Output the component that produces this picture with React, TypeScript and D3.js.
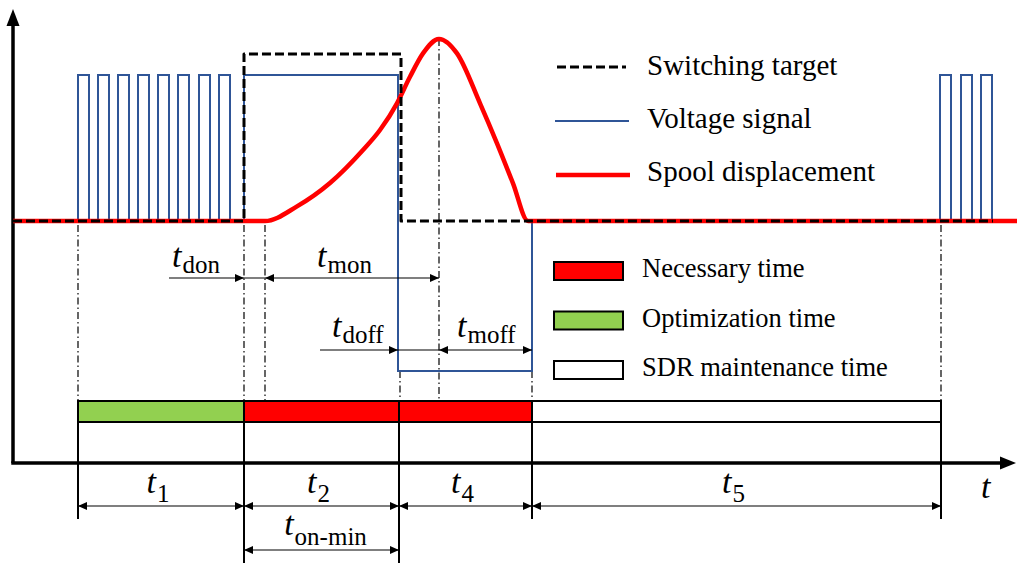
import React from "react";
import * as d3 from "d3";

const W = 1017;
const H = 563;

// Time axis in arbitrary units; signal levels normalised to the voltage "on" level.
const burstHead = [65, 85, 105, 125, 145, 165, 186, 206];
const burstTail = [927, 948, 968];
const pulseWidth = 11;
const tOnCmd = 231;
const tOffCmd = 388;
const tOffVolt = 385;
const tVoltBack = 519;
const tSpoolStart = 252;
const tSpoolPeak = 426;
const tTargetEnd = 980;
const tSpoolTail = 1004;
const tDonTail = 156;
const tDoffTail = 307;
const targetHigh = 1.144;
const voltageHigh = 1;
const voltageLow = -1.027;

const spoolT = [252, 284, 317, 350, 367, 384, 397, 410, 426, 444, 467, 484, 500, 515];
const spoolV = [0, 0.1, 0.26, 0.486, 0.623, 0.806, 0.988, 1.148, 1.247, 1.148, 0.806, 0.532, 0.258, 0];

const phaseBounds = [65, 231, 386, 519, 928];
const phaseSubs = ["1", "2", "4", "5"];
const phaseKind = ["opt", "need", "need", "sdr"];

const legendLines = ["Switching target", "Voltage signal", "Spool displacement"];
const legendBoxes = ["Necessary time", "Optimization time", "SDR maintenance time"];

const RED = "#ff0000";
const GREEN = "#92d050";
const BLUE = "#2f5597";
const FONT = '"Liberation Serif"';
const DASHDOT = "7 3 1.5 3";

const x = d3.scaleLinear().domain([0, 1000]).range([13, 1013]);
const y = d3.scaleLinear().domain([0, 1]).range([221, 75]);

const line = d3
  .line<[number, number]>()
  .x((d) => x(d[0]))
  .y((d) => y(d[1]));

function pulses(starts: number[]): [number, number][] {
  const pts: [number, number][] = [];
  starts.forEach((s) => {
    pts.push([s, 0], [s, voltageHigh], [s + pulseWidth, voltageHigh], [s + pulseWidth, 0]);
  });
  return pts;
}

const voltagePts: [number, number][] = [
  ...pulses(burstHead),
  [tOnCmd, 0],
  [tOnCmd, voltageHigh],
  [tOffVolt, voltageHigh],
  [tOffVolt, voltageLow],
  [tVoltBack, voltageLow],
  [tVoltBack, 0],
  ...pulses(burstTail),
];

const targetPts: [number, number][] = [
  [0, 0],
  [tOnCmd, 0],
  [tOnCmd, targetHigh],
  [tOffCmd, targetHigh],
  [tOffCmd, 0],
  [tTargetEnd, 0],
];

const spoolPts: [number, number][] = [
  [0, 0],
  ...spoolT.map((t, i) => [t, spoolV[i]] as [number, number]),
  [tSpoolTail, 0],
];

const spoolLine = d3
  .line<[number, number]>()
  .x((d) => x(d[0]))
  .y((d) => y(d[1]))
  .curve(d3.curveMonotoneX);

function Head({ tip, yy, dir }: { tip: number; yy: number; dir: number }) {
  const L = 9;
  const h = 4;
  return (
    <path
      d={`M${tip},${yy} L${tip - dir * L},${yy - h} L${tip - dir * L},${yy + h} Z`}
      fill="#000"
    />
  );
}

function TLabel({
  px,
  py,
  sub,
  anchor = "start",
  dy = 6,
}: {
  px: number;
  py: number;
  sub?: string;
  anchor?: string;
  dy?: number;
}) {
  return (
    <text x={px} y={py} style={{ fontFamily: FONT }} textAnchor={anchor as any} fill="#000">
      <tspan fontStyle="italic" fontSize={34}>
        t
      </tspan>
      {sub ? (
        <tspan fontSize={25} dy={dy} dx={1}>
          {sub}
        </tspan>
      ) : null}
    </text>
  );
}

export default function App() {
  const barTop = 401;
  const barMid = 422;
  const axisY = 463;
  const yPeak = y(spoolV[spoolT.indexOf(tSpoolPeak)]);

  const guides: { t: number; y0: number }[] = [
    { t: phaseBounds[0], y0: y(0) + 4 },
    { t: tOnCmd, y0: y(0) + 4 },
    { t: tSpoolStart, y0: y(0) + 4 },
    { t: tOffCmd - 1, y0: y(voltageLow) },
    { t: tSpoolPeak, y0: yPeak },
    { t: tVoltBack, y0: y(voltageLow) },
    { t: phaseBounds[4], y0: y(0) + 4 },
  ];

  const rowA = 278;
  const rowB = 350;
  const rowC = 506;
  const rowD = 550;

  return (
    <svg
      width={W}
      height={H}
      style={{ position: "absolute", left: 0, top: 0, background: "#fff", fontFamily: FONT }}
    >
      <rect x={0} y={0} width={W} height={H} fill="#fff" />

      {/* dash-dot guide lines */}
      {guides.map((g, i) => (
        <line
          key={i}
          x1={x(g.t)}
          x2={x(g.t)}
          y1={g.y0}
          y2={barTop}
          stroke="#000"
          strokeWidth={1.2}
          strokeDasharray={DASHDOT}
        />
      ))}

      {/* phase bar */}
      {phaseKind.map((k, i) => (
        <rect
          key={i}
          x={x(phaseBounds[i])}
          y={barTop}
          width={x(phaseBounds[i + 1]) - x(phaseBounds[i])}
          height={barMid - barTop}
          fill={k === "opt" ? GREEN : k === "need" ? RED : "#fff"}
          stroke="#000"
          strokeWidth={2}
        />
      ))}
      <line
        x1={x(phaseBounds[0])}
        x2={x(phaseBounds[4])}
        y1={barMid}
        y2={barMid}
        stroke="#000"
        strokeWidth={2}
      />
      {phaseBounds.map((b, i) => (
        <line
          key={i}
          x1={x(b)}
          x2={x(b)}
          y1={barTop}
          y2={i === 1 || i === 2 ? H : 519}
          stroke="#000"
          strokeWidth={2}
        />
      ))}

      {/* axes */}
      <line x1={x(0)} x2={x(0)} y1={axisY} y2={24} stroke="#000" strokeWidth={3.5} />
      <path d={`M${x(0)},9 L${x(0) - 6.5},26 L${x(0) + 6.5},26 Z`} fill="#000" />
      <line x1={x(0) - 1.75} x2={1002} y1={axisY} y2={axisY} stroke="#000" strokeWidth={3.5} />
      <path d={`M1016,${axisY} L1000,${axisY - 6.5} L1000,${axisY + 6.5} Z`} fill="#000" />

      {/* signals */}
      <path d={line(voltagePts) || ""} fill="none" stroke={BLUE} strokeWidth={2} />
      <path
        d={spoolLine(spoolPts) || ""}
        fill="none"
        stroke={RED}
        strokeWidth={4.5}
        strokeLinejoin="round"
      />
      <path
        d={line(targetPts) || ""}
        fill="none"
        stroke="#000"
        strokeWidth={3}
        strokeDasharray="9 4"
        strokeLinejoin="round"
      />

      {/* delay dimension lines */}
      <line x1={x(tDonTail)} x2={x(tSpoolPeak)} y1={rowA} y2={rowA} stroke="#000" strokeWidth={1.2} />
      <Head tip={x(tOnCmd)} yy={rowA} dir={1} />
      <Head tip={x(tSpoolStart)} yy={rowA} dir={-1} />
      <Head tip={x(tSpoolPeak)} yy={rowA} dir={1} />
      <TLabel px={172} py={267} sub="don" />
      <TLabel px={317} py={267} sub="mon" />

      <line x1={x(tDoffTail)} x2={x(tVoltBack)} y1={rowB} y2={rowB} stroke="#000" strokeWidth={1.2} />
      <Head tip={x(tOffVolt)} yy={rowB} dir={1} />
      <Head tip={x(tSpoolPeak)} yy={rowB} dir={-1} />
      <Head tip={x(tVoltBack)} yy={rowB} dir={1} />
      <TLabel px={332} py={337} sub="doff" />
      <TLabel px={457} py={337} sub="moff" />

      {/* phase duration dimensions */}
      <line
        x1={x(phaseBounds[0])}
        x2={x(phaseBounds[4])}
        y1={rowC}
        y2={rowC}
        stroke="#000"
        strokeWidth={1.2}
      />
      {phaseSubs.map((s, i) => {
        const a = x(phaseBounds[i]);
        const b = x(phaseBounds[i + 1]);
        return (
          <g key={s}>
            <Head tip={a} yy={rowC} dir={-1} />
            <Head tip={b} yy={rowC} dir={1} />
            <TLabel px={(a + b) / 2 - 3} py={493} sub={s} anchor="middle" dy={9} />
          </g>
        );
      })}
      <line
        x1={x(phaseBounds[1])}
        x2={x(phaseBounds[2])}
        y1={rowD}
        y2={rowD}
        stroke="#000"
        strokeWidth={1.2}
      />
      <Head tip={x(phaseBounds[1])} yy={rowD} dir={-1} />
      <Head tip={x(phaseBounds[2])} yy={rowD} dir={1} />
      <TLabel
        px={(x(phaseBounds[1]) + x(phaseBounds[2])) / 2 + 4}
        py={535}
        sub="on-min"
        anchor="middle"
        dy={10}
      />
      <text x={981} y={498} style={{ fontFamily: FONT }} fontStyle="italic" fontSize={34}>
        t
      </text>

      {/* legend: signals */}
      <line x1={557} x2={626} y1={67} y2={67} stroke="#000" strokeWidth={3} strokeDasharray="9 4" />
      <line x1={555} x2={629} y1={121} y2={121} stroke={BLUE} strokeWidth={2} />
      <line x1={556} x2={630} y1={175} y2={175} stroke={RED} strokeWidth={4.5} />
      {legendLines.map((s, i) => (
        <text key={s} x={647} y={75 + i * 53} style={{ fontFamily: FONT }} fontSize={29} fill="#000">
          {s}
        </text>
      ))}

      {/* legend: phase types */}
      {legendBoxes.map((s, i) => (
        <g key={s}>
          <rect
            x={554}
            y={262 + i * 49.5}
            width={69}
            height={18}
            fill={i === 0 ? RED : i === 1 ? GREEN : "#fff"}
            stroke="#000"
            strokeWidth={2}
          />
          <text x={642} y={277 + i * 49.5} style={{ fontFamily: FONT }} fontSize={26.5} fill="#000">
            {s}
          </text>
        </g>
      ))}
    </svg>
  );
}
